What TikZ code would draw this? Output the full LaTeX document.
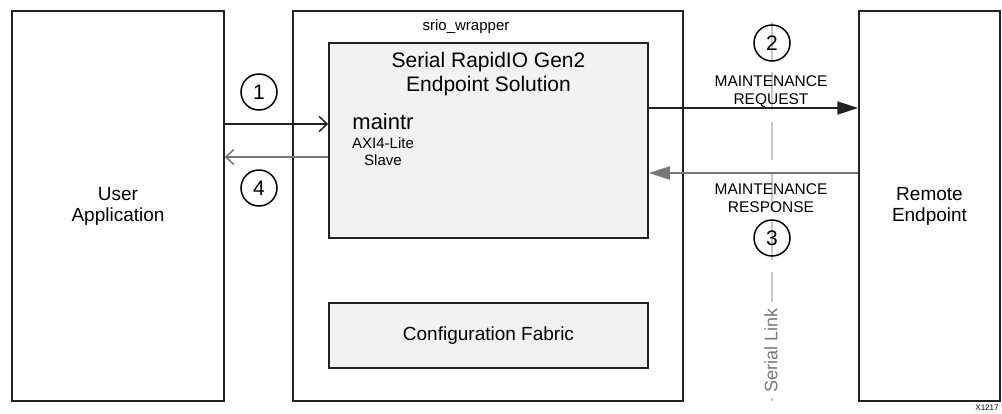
\documentclass[tikz,border=0pt]{standalone}
\usepackage{fontspec}
\setmainfont{Liberation Sans}
\usetikzlibrary{arrows.meta}
\definecolor{boxfill}{HTML}{F2F2F2}
\definecolor{darkline}{HTML}{222222}
\definecolor{grayarrow}{HTML}{777777}
\definecolor{linkgray}{HTML}{C8C8C8}
\begin{document}
\begin{tikzpicture}[x=1pt,y=-1pt,
  box/.style={draw=darkline, line width=1.5pt, inner sep=0pt, align=center, font=\fontsize{19}{21}\selectfont},
  fillbox/.style={box, fill=boxfill},
  num/.style={draw=black, line width=1.5pt, circle, minimum size=36pt, inner sep=0pt, font=\fontsize{21}{23}\selectfont},
  lbl/.style={inner sep=0pt, align=center},
  mtext/.style={lbl, font=\fontsize{15.5}{18}\selectfont},
  openarr/.style={line width=1.8pt, -{Straight Barb[length=8pt,width=15pt,line width=1.5pt]}},
  fillarr/.style={line width=2pt, -{Triangle[length=21pt,width=13pt]}}
]
\useasboundingbox (0,0) rectangle (1002,413);
% boxes
\node[box, minimum width=212pt, minimum height=390pt] (user) at (118,206) {User\\Application};
\node[box, minimum width=390pt, minimum height=390pt] (wrap) at (488,206) {};
\node[box, minimum width=141pt, minimum height=390pt] (remote) at (929.5,206) {Remote\\Endpoint};
\node[fillbox, minimum width=319pt, minimum height=195pt] (core) at (488.5,140.5) {};
\node[fillbox, minimum width=319pt, minimum height=65pt] (cfg) at (488.5,335.5) {Configuration Fabric};
% labels
\node[lbl, font=\fontsize{15}{18}\selectfont] (wraplbl) at (466,27) {srio\_wrapper};
\node[lbl, font=\fontsize{21}{23.5}\selectfont] (corelbl) at (488.5,74) {Serial RapidIO Gen2\\Endpoint Solution};
\node[lbl, font=\fontsize{22}{24}\selectfont] (maintr) at (383,122) {maintr};
\node[lbl, font=\fontsize{15}{17}\selectfont] (axi) at (383,151.5) {AXI4-Lite\\Slave};
% serial link
\coordinate (linktop) at (772,22);
\coordinate (linkbot) at (772,401);
\draw[linkgray, line width=2pt, dash pattern=on 38pt off 12pt] (linktop) -- (linkbot);
\node[lbl, fill=white, text=grayarrow, rotate=90, inner xsep=6pt, inner ysep=1pt, font=\fontsize{18}{20}\selectfont] (serial) at (771,350) {Serial Link};
% numbers
\node[num] (n1) at (259,92) {1};
\node[num] (n4) at (259,188) {4};
\node[num] (n2) at (772,43) {2};
\node[num] (n3) at (772,238) {3};
% maintenance texts
\node[mtext] (req) at (771,92) {MAINTENANCE\\REQUEST};
\node[mtext] (resp) at (771,198) {MAINTENANCE\\RESPONSE};
% arrows
\coordinate (ya) at (0,124);
\coordinate (yb) at (0,157);
\coordinate (yc) at (0,108);
\coordinate (yd) at (0,173);
\draw[openarr, darkline] (user.east |- ya) -- (core.west |- ya);
\draw[openarr, grayarrow] (core.west |- yb) -- (user.east |- yb);
\draw[fillarr, darkline] (core.east |- yc) -- (remote.west |- yc);
\draw[fillarr, grayarrow] (remote.west |- yd) -- (core.east |- yd);
% figure id
\node[lbl, font=\fontsize{8}{9}\selectfont] (fig) at (987,407.5) {X1217};
\end{tikzpicture}
\end{document}
